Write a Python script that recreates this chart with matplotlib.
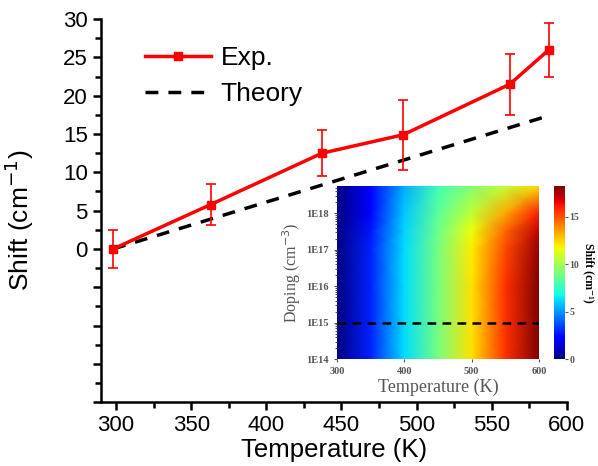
import numpy as np
import matplotlib
matplotlib.use("Agg")
import matplotlib.pyplot as plt
from matplotlib.lines import Line2D
from matplotlib.ticker import MultipleLocator, FuncFormatter, FixedLocator, NullFormatter

# Experimental shift vs temperature
temp_exp = [298, 363, 437, 491, 562, 588]
shift_exp = [0.0, 5.8, 12.5, 14.9, 21.5, 26.0]
err_exp = [2.5, 2.7, 3.0, 4.6, 4.0, 3.5]

# Theory line
temp_th = [298, 588]
shift_th = [0.0, 17.4]

# Inset map: shift (cm-1) vs temperature and log10(doping)
map_temp = [300, 350, 400, 450, 500, 550, 600]
map_logdop = [14, 15, 16, 17, 17.5, 18, 18.74]
map_shift = [
    [0, 2.9, 6.2, 9.0, 12.2, 15.6, 18.2],
    [0, 2.9, 6.2, 9.0, 12.2, 15.6, 18.2],
    [0, 2.9, 6.2, 9.0, 12.2, 15.6, 18.2],
    [0, 2.9, 6.2, 9.0, 12.0, 15.2, 17.8],
    [0, 2.7, 6.1, 8.8, 11.6, 14.6, 17.2],
    [0, 2.3, 5.9, 8.4, 10.6, 13.3, 16.0],
    [0, 2.1, 5.4, 7.8, 9.3, 10.7, 12.3],
]

fig = plt.figure(figsize=(5.98, 4.66), dpi=100)
ax = fig.add_axes([0.169, 0.137, 0.779, 0.822])

sans = ["Liberation Sans", "DejaVu Sans"]
serif = ["Liberation Serif", "DejaVu Serif"]

ax.errorbar(temp_exp, shift_exp, yerr=err_exp, color="red", lw=2.5, marker="s",
            ms=6, elinewidth=1.2, capsize=3.5, capthick=1.2, zorder=3)
ax.plot(temp_th, shift_th, color="black", lw=2.5, ls=(0, (3.7, 2.9)))

ax.set_xlim(290, 600)
ax.set_ylim(-20, 30)
ax.xaxis.set_major_locator(MultipleLocator(50))
ax.xaxis.set_minor_locator(MultipleLocator(25))
ax.yaxis.set_major_locator(MultipleLocator(5))
ax.yaxis.set_minor_locator(MultipleLocator(2.5))
ax.yaxis.set_major_formatter(FuncFormatter(lambda v, p: f"{v:.0f}" if v >= 0 else ""))

for s in ["top", "right"]:
    ax.spines[s].set_visible(False)
for s in ["left", "bottom"]:
    ax.spines[s].set_linewidth(1.8)
ax.tick_params(which="major", length=6, width=1.8, direction="out", labelsize=16)
ax.tick_params(which="minor", length=4, width=1.8, direction="out")
for lab in ax.get_xticklabels() + ax.get_yticklabels():
    lab.set_family(sans)

ax.set_xlabel("Temperature (K)", fontsize=18.5, family=sans, labelpad=1)
ax.set_ylabel("Shift (cm$^{-1}$)", fontsize=19, family=sans)
ax.yaxis.set_label_coords(-0.14, 0.475)

handles = [
    Line2D([], [], color="red", lw=2.5, marker="s", ms=6),
    Line2D([], [], color="black", lw=2.5, ls=(0, (3.7, 2.9))),
]
ax.legend(handles, ["Exp.", "Theory"], loc="upper left", bbox_to_anchor=(0.095, 0.93),
          frameon=False, handlelength=2.5, handletextpad=0.35, numpoints=1,
          borderaxespad=0, borderpad=0, labelspacing=0.45,
          prop={"family": sans, "size": 19})

# Inset heat map
axi = fig.add_axes([0.5635, 0.2296, 0.338, 0.371])
T, D = np.meshgrid(map_temp, 10.0 ** np.array(map_logdop))
pm = axi.pcolormesh(T, D, np.array(map_shift), cmap="jet", vmin=0, vmax=18.2,
                    shading="gouraud", rasterized=True)
axi.set_yscale("log")
axi.set_xlim(300, 600)
axi.set_ylim(1e14, 10 ** 18.74)
axi.plot([300, 600], [1e15, 1e15], color="black", lw=1.8, ls=(0, (3.5, 2.5)))
axi.xaxis.set_major_locator(FixedLocator([300, 400, 500, 600]))
axi.yaxis.set_major_locator(FixedLocator([1e14, 1e15, 1e16, 1e17, 1e18]))
axi.yaxis.set_major_formatter(FuncFormatter(lambda v, p: f"1E{int(round(np.log10(v)))}"))
axi.yaxis.set_minor_formatter(NullFormatter())
gray = "#555555"
axi.tick_params(which="both", labelsize=7.5, colors=gray, length=2.5, width=0.8)
axi.tick_params(which="minor", length=1.5)
for lab in axi.get_xticklabels() + axi.get_yticklabels():
    lab.set_family(serif)
    lab.set_fontweight("bold")
for s in axi.spines.values():
    s.set_visible(False)
axi.set_xlabel("Temperature (K)", fontsize=13, family=serif, color=gray, labelpad=2)
axi.set_ylabel("Doping (cm$^{-3}$)", fontsize=11.5, family=serif, color=gray, labelpad=2)

cax = fig.add_axes([0.927, 0.2296, 0.0184, 0.371])
cb = fig.colorbar(pm, cax=cax)
cb.set_ticks([0, 5, 10, 15])
cb.outline.set_visible(False)
cax.tick_params(labelsize=7, colors=gray, length=2, width=0.8, pad=1)
for lab in cax.get_yticklabels():
    lab.set_family(serif)
    lab.set_fontweight("bold")
cax.text(3.15, 0.5, "Shift (cm\u207b\u00b9)", rotation=270, fontsize=8.5, family=serif,
         fontweight="bold", ha="center", va="center", transform=cax.transAxes)

fig.savefig("out.png", dpi=100)
